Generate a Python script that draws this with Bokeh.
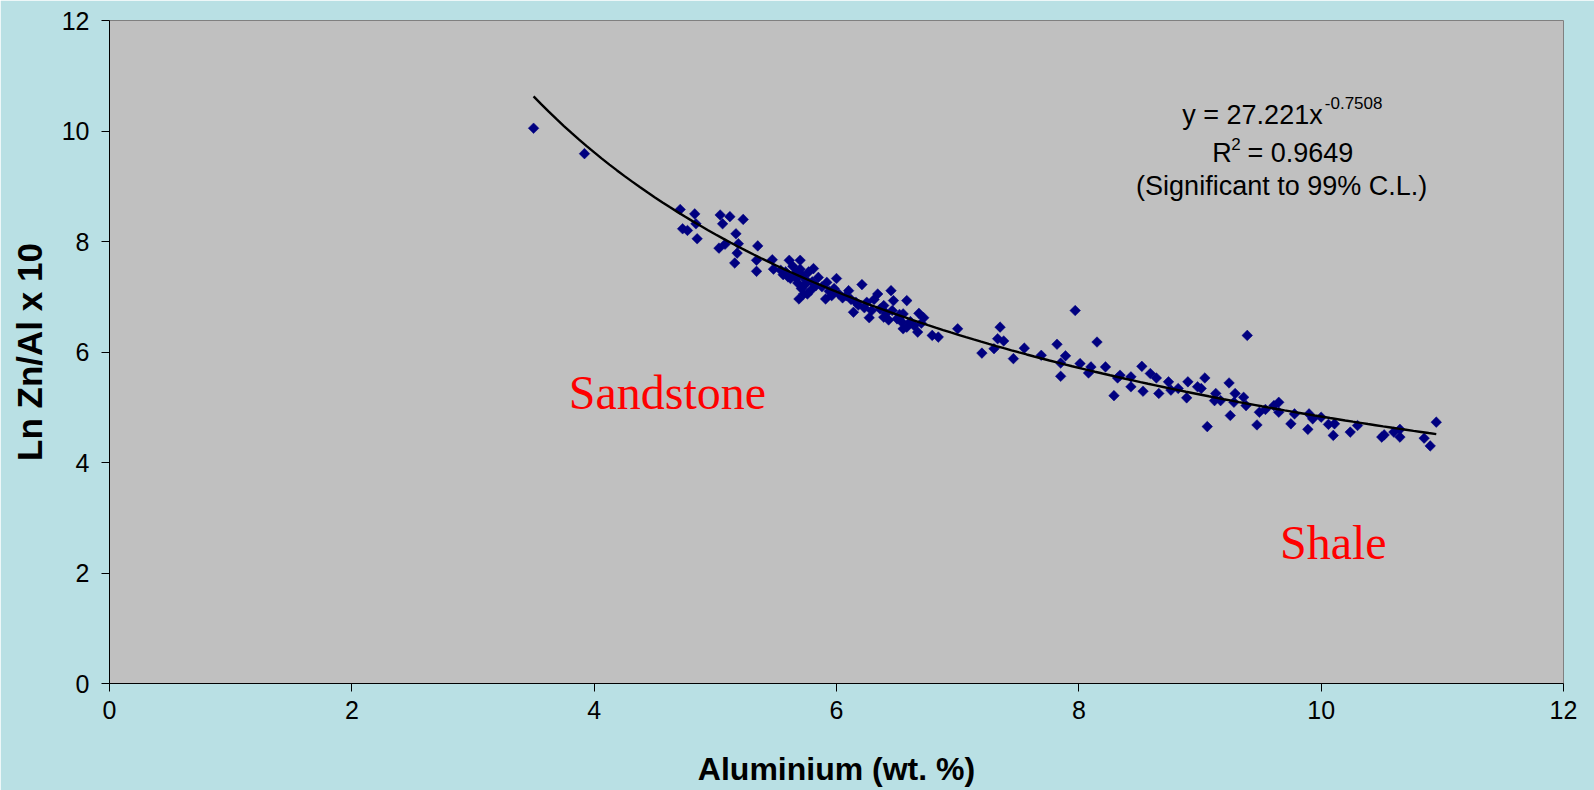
import numpy as np
from bokeh.plotting import figure
from bokeh.models import Range1d, FixedTicker, Label, ColumnDataSource
from bokeh.embed import file_html
from bokeh.resources import INLINE

# ---- data ----
aluminium = [
    3.50, 3.92, 4.71, 4.73, 4.77, 4.83, 4.84, 4.85, 5.03, 5.04, 5.06, 5.08, 5.12, 5.17, 5.18, 5.19,
    5.16, 5.23, 5.34, 5.34, 5.35, 5.47, 5.48, 5.54, 5.56, 5.58, 5.60, 5.61, 5.62, 5.64, 5.66, 5.67,
    5.68, 5.69, 5.70, 5.70, 5.71, 5.72, 5.73, 5.74, 5.75, 5.76, 5.77, 5.79, 5.80, 5.81, 5.83, 5.85,
    5.88, 5.91, 5.92, 5.94, 5.96, 5.98, 6.00, 6.02, 6.05, 6.08, 6.10, 6.12, 6.14, 6.16, 6.18, 6.21,
    6.23, 6.25, 6.27, 6.29, 6.31, 6.34, 6.36, 6.39, 6.39, 6.41, 6.43, 6.45, 6.46, 6.47, 6.50, 6.52,
    6.54, 6.55, 6.55, 6.58, 6.58, 6.61, 6.64, 6.67, 6.68, 6.72, 6.70, 6.79, 6.84, 7.00, 7.20, 7.30,
    7.33, 7.35, 7.38, 7.46, 7.55, 7.69, 7.82, 7.85, 7.85, 7.89, 7.97, 8.01, 8.08, 8.10, 8.15, 8.22,
    8.29, 8.32, 8.34, 8.43, 8.43, 8.52, 8.53, 8.59, 8.64, 8.66, 8.74, 8.76, 8.82, 8.90, 8.89, 8.98,
    9.01, 9.04, 9.06, 9.12, 9.13, 9.17, 9.24, 9.25, 9.28, 9.29, 9.36, 9.38, 9.39, 9.47, 9.49, 9.54,
    9.61, 9.65, 9.65, 9.75, 9.78, 9.89, 9.90, 9.93, 10.00, 10.06, 10.10, 10.11, 10.24, 10.30, 10.50, 10.52,
    10.60, 10.65, 10.65, 10.85, 10.90, 10.95,
]
ln_zn_al = [
    10.05, 9.59, 8.58, 8.23, 8.20, 8.50, 8.32, 8.05, 7.88, 8.48, 8.32, 7.95, 8.45, 8.14, 7.79, 7.96,
    7.61, 8.40, 7.46, 7.66, 7.92, 7.67, 7.50, 7.48, 7.40, 7.45, 7.36, 7.66, 7.33, 7.55, 7.42, 7.33,
    7.25, 6.96, 7.66, 7.50, 7.15, 7.38, 7.05, 7.22, 7.30, 7.05, 7.45, 7.12, 7.27, 7.51, 7.20, 7.35,
    7.18, 6.96, 7.26, 7.10, 7.02, 7.15, 7.33, 7.05, 6.98, 7.02, 7.11, 6.95, 6.72, 6.90, 6.85, 7.22,
    6.80, 6.90, 6.62, 6.75, 6.95, 7.05, 6.78, 6.63, 6.84, 6.70, 6.58, 7.11, 6.75, 6.93, 6.60, 6.68,
    6.54, 6.42, 6.69, 6.93, 6.45, 6.55, 6.48, 6.36, 6.70, 6.62, 6.52, 6.30, 6.27, 6.42, 5.98, 6.06,
    6.24, 6.45, 6.20, 5.88, 6.07, 5.94, 6.14, 5.56, 5.80, 5.93, 6.75, 5.79, 5.62, 5.73, 6.18, 5.73,
    5.21, 5.53, 5.58, 5.55, 5.37, 5.74, 5.29, 5.61, 5.53, 5.25, 5.46, 5.31, 5.34, 5.46, 5.17, 5.37,
    5.34, 5.53, 4.65, 5.12, 5.25, 5.12, 5.44, 4.85, 5.09, 5.25, 5.18, 5.03, 6.30, 4.68, 4.91, 4.96,
    5.03, 5.09, 4.91, 4.70, 4.88, 4.60, 4.88, 4.79, 4.82, 4.69, 4.49, 4.70, 4.55, 4.67, 4.46, 4.50,
    4.55, 4.60, 4.46, 4.44, 4.30, 4.73,
]

# power trend line reported on the chart: y = a * x^b
fit_a = 27.221
fit_b = -0.7508
fit_x_start = 3.50
fit_x_end = 10.95

x_ticks = [0, 2, 4, 6, 8, 10, 12]
y_ticks = [0, 2, 4, 6, 8, 10, 12]

x_title = "Aluminium (wt. %)"
y_title = "Ln Zn/Al x 10"

# ---- figure ----
BG = "#B9E0E4"
p = figure(width=1594, height=790, output_backend="svg", toolbar_location=None,
           x_range=Range1d(0, 12), y_range=Range1d(0, 12),
           min_border_left=109, min_border_right=31, min_border_top=20, min_border_bottom=107)
p.background_fill_color = "#C0C0C0"
p.border_fill_color = BG
p.outline_line_color = "#808080"
p.outline_line_width = 1
p.xgrid.visible = False
p.ygrid.visible = False

for ax, ticks in ((p.xaxis[0], x_ticks), (p.yaxis[0], y_ticks)):
    ax.ticker = FixedTicker(ticks=ticks)
    ax.axis_line_color = "#000000"
    ax.major_tick_line_color = "#000000"
    ax.major_tick_out = 8
    ax.major_tick_in = 0
    ax.minor_tick_out = 0
    ax.minor_tick_in = 0
    ax.major_label_text_font = "Liberation Sans"
    ax.major_label_text_font_size = "25px"
    ax.major_label_text_color = "#000000"
    ax.axis_label_text_font = "Liberation Sans"
    ax.axis_label_text_font_style = "bold"
    ax.axis_label_text_color = "#000000"

p.xaxis.axis_label = x_title
p.yaxis.axis_label = y_title
p.xaxis.axis_label_text_font_size = "32px"
p.yaxis.axis_label_text_font_size = "35px"
p.xaxis.major_label_standoff = 9
p.yaxis.major_label_standoff = 12
p.xaxis.axis_label_standoff = 29
p.yaxis.axis_label_standoff = 10

src = ColumnDataSource(dict(x=aluminium, y=ln_zn_al))
p.scatter("x", "y", source=src, marker="square", size=7.5, angle=np.pi / 4,
          fill_color="#000080", line_color="#000080", line_width=0.5)

fx = np.linspace(fit_x_start, fit_x_end, 120)
fy = fit_a * fx ** fit_b
p.line(fx, fy, line_color="#000000", line_width=2.4)

# ---- annotations ----
SANS = "Liberation Sans"
PX = 1 / 121.1   # data units per pixel (x)
PY = 1 / 55.28   # data units per pixel (y)

def lab(x, y, text, size, font=SANS, color="#000000", align="left"):
    p.add_layout(Label(x=x, y=y, text=text, text_font=font, text_font_size=size,
                       text_color=color, text_align=align, text_baseline="alphabetic"))

lift_big = 15 * PY
lift_mid = 6 * PY
lift_small = 4 * PY

lab(8.854, 10.19 + lift_mid, "y = 27.221x", "27px")
lab(10.03, 10.43 + lift_small, "-0.7508", "17px")
lab(9.102, 9.497 + lift_mid, "R", "27px")
lab(9.102 + 19 * PX, 9.684 + lift_small, "2", "17px")
lab(9.391, 9.497 + lift_mid, "= 0.9649", "27px")
lab(9.674, 8.893 + lift_mid, "(Significant to 99% C.L.)", "27px", align="center")

lab(3.79, 5.0 + lift_big, "Sandstone", "48px", font="Liberation Serif", color="#FF0000")
lab(9.66, 2.28 + lift_big, "Shale", "48px", font="Liberation Serif", color="#FF0000")

open("out.html", "w").write(file_html(p, INLINE))
